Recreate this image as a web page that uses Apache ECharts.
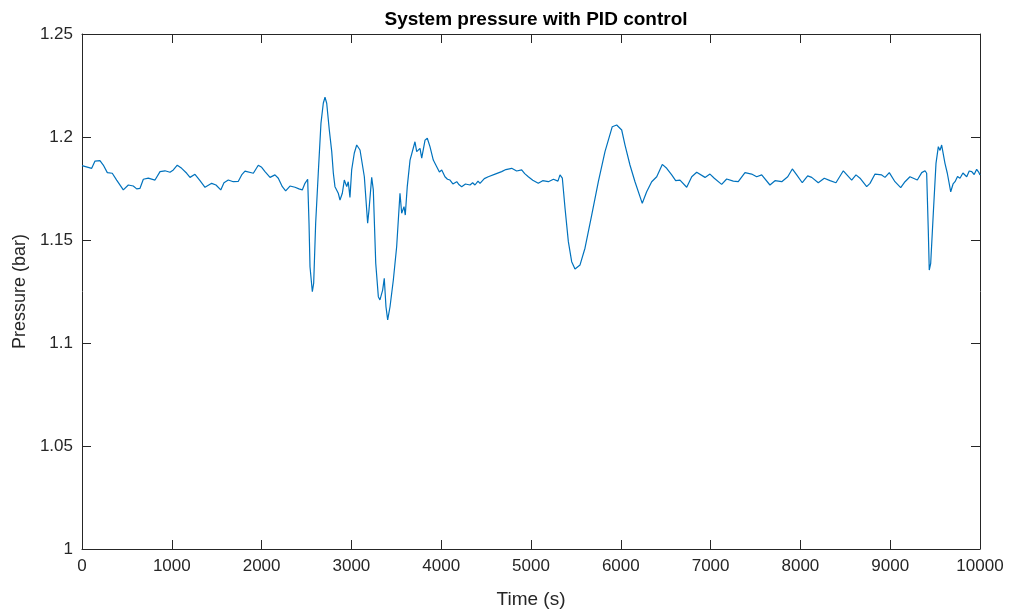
<!DOCTYPE html>
<html>
<head>
<meta charset="utf-8">
<script src="https://cdn.jsdelivr.net/npm/echarts@6/dist/echarts.min.js"></script>
<style>
html,body{margin:0;padding:0;background:#fff;}
#chart{width:1010px;height:614px;}
</style>
</head>
<body>
<div id="chart"></div>
<script>
// Time samples (s)
const timeS = [
0,108,145,200,237,282,337,386,460,516,571,609,646,683,738,813,869,924,980,1017,1061,1110,1166,1203,1258,1314,1370,1444,1492,1545,1581,1629,1685,1741,1778,1815,1908,1963,2001,2038,2094,2149,2186,2231,2268,2316,2372,2416,2453,2483,2513,
2528,2539,2565,2580,2602,2631,2661,2687,2706,2725,2754,2781,2799,2817,2854,2873,2899,2921,2948,2965,2984,3003,3032,3059,3077,3096,3110,3144,3181,3196,3226,3244,3271,3300,3318,3348,3366,3385,3404,3430,3467,3504,3541,3560,3586,3600,3622,3653,3708,3727,3764,3783,3820,3845,3875,3912,3950,
3980,4006,4042,4070,4098,4130,4173,4200,4228,4270,4321,4350,4376,4410,4432,4480,4524,4600,4673,4720,4785,4840,4896,4930,4970,5020,5081,5130,5193,5250,5300,5323,5349,
5379,5416,5453,5490,5546,5601,5676,5750,5824,5905,5954,6010,6047,6102,6158,6239,6288,6344,6400,6462,6511,6567,6611,6659,6734,6790,6845,6938,6993,7041,7123,7179,7253,7308,7383,7457,7513,7569,7661,7717,7792,7859,7910,7959,8021,8081,8126,8199,8266,8330,8396,8478,8571,8619,8664,8738,8775,8831,8905,8942,8990,9053,9117,9165,9220,9302,9351,9388,9406,
9424,9435,9451,9480,9510,9536,9555,9573,9610,9636,9674,9700,9722,9750,9777,9810,9852,9880,9908,9935,9963,9985,10000
];
// Pressure values (bar)
const pressureBar = [
1.1861,1.1848,1.1883,1.1885,1.1864,1.1827,1.1824,1.1791,1.1743,1.1767,1.1762,1.1748,1.1751,1.1795,1.1800,1.1791,1.1832,1.1836,1.1829,1.1840,1.1863,1.1848,1.1824,1.1804,1.1819,1.1788,1.1756,1.1775,1.1767,1.1743,1.1778,1.1791,1.1783,1.1785,1.1816,1.1834,1.1824,1.1863,1.1853,1.1832,1.1804,1.1816,1.1800,1.1759,1.1738,1.1762,1.1756,1.1748,1.1743,1.1775,1.1795,
1.1581,1.1370,1.1249,1.1290,1.1581,1.1824,1.2066,1.2164,1.2193,1.2164,1.2034,1.1929,1.1824,1.1759,1.1727,1.1694,1.1727,1.1791,1.1759,1.1783,1.1707,1.1840,1.1921,1.1961,1.1969,1.1937,1.1929,1.1807,1.1581,1.1646,1.1804,1.1743,1.1387,1.1225,1.1209,1.1257,1.1314,1.1176,1.1112,1.1176,1.1306,1.1467,1.1727,1.1630,1.1662,1.1621,1.1759,1.1888,1.1977,1.1929,1.1945,1.1897,1.1985,1.1994,1.1953,1.1888,1.1856,
1.1830,1.1840,1.1807,1.1795,1.1791,1.1772,1.1783,1.1768,1.1759,1.1772,1.1767,1.1778,1.1767,1.1786,1.1775,1.1798,1.1807,1.1820,1.1832,1.1842,1.1848,1.1835,1.1840,1.1822,1.1807,1.1790,1.1775,1.1788,1.1783,1.1795,1.1786,1.1816,1.1800,
1.1654,1.1492,1.1395,1.1359,1.1379,1.1460,1.1621,1.1783,1.1929,1.2050,1.2058,1.2034,1.1961,1.1864,1.1783,1.1678,1.1734,1.1783,1.1807,1.1867,1.1848,1.1816,1.1788,1.1791,1.1756,1.1807,1.1829,1.1804,1.1820,1.1800,1.1770,1.1796,1.1786,1.1783,1.1827,1.1820,1.1807,1.1816,1.1767,1.1788,1.1783,1.1807,1.1845,1.1816,1.1778,1.1811,1.1804,1.1778,1.1800,1.1788,1.1778,1.1836,1.1791,1.1816,1.1800,1.1759,1.1775,1.1820,1.1816,1.1804,1.1827,1.1783,1.1754,1.1783,1.1807,1.1791,1.1827,1.1836,1.1824,
1.1549,1.1354,1.1387,1.1630,1.1872,1.1953,1.1935,1.1961,1.1872,1.1824,1.1734,1.1772,1.1783,1.1808,1.1800,1.1825,1.1807,1.1835,1.1832,1.1818,1.1843,1.1830,1.1815
];
const xTicks = [0,1000,2000,3000,4000,5000,6000,7000,8000,9000,10000];
const yTicks = [1,1.05,1.1,1.15,1.2,1.25];

const seriesData = timeS.map((t, i) => [t, pressureBar[i]]);
const txt = '#262626';
const font = '"Liberation Sans", Arial, Helvetica, sans-serif';

const chart = echarts.init(document.getElementById('chart'), null, {renderer: 'canvas'});
const axisCommon = {
  axisLine: {show: true, onZero: false, lineStyle: {color: txt, width: 1}},
  axisTick: {show: true, inside: true, length: 9, lineStyle: {color: txt, width: 1}},
  splitLine: {show: false}
};
chart.setOption({
  animation: false,
  backgroundColor: '#fff',
  title: {
    text: 'System pressure with PID control',
    left: 531, top: 5, textAlign: 'center',
    textStyle: {fontFamily: font, fontSize: 19, fontWeight: 'bold', color: '#000'}
  },
  grid: {left: 82, right: 30, top: 34, bottom: 65, containLabel: false},
  xAxis: [
    Object.assign({
      type: 'value', min: xTicks[0], max: xTicks[xTicks.length-1], interval: 1000,
      position: 'bottom',
      name: 'Time (s)', nameLocation: 'middle', nameGap: 41,
      nameTextStyle: {fontFamily: font, fontSize: 19, color: txt},
      axisLabel: {fontFamily: font, fontSize: 17, color: txt, margin: 9,
        formatter: v => String(v)}
    }, axisCommon),
    Object.assign({
      type: 'value', min: xTicks[0], max: xTicks[xTicks.length-1], interval: 1000,
      position: 'top', axisLabel: {show: false}
    }, axisCommon)
  ],
  yAxis: [
    Object.assign({
      type: 'value', min: yTicks[0], max: yTicks[yTicks.length-1], interval: 0.05,
      position: 'left',
      name: 'Pressure (bar)', nameLocation: 'middle', nameGap: 50,
      nameTextStyle: {fontFamily: font, fontSize: 18, color: txt},
      axisLabel: {fontFamily: font, fontSize: 17, color: txt, margin: 9,
        formatter: v => String(+v.toFixed(2))}
    }, axisCommon),
    Object.assign({
      type: 'value', min: yTicks[0], max: yTicks[yTicks.length-1], interval: 0.05,
      position: 'right', axisLabel: {show: false}
    }, axisCommon)
  ],
  series: [{
    type: 'line',
    data: seriesData,
    showSymbol: false,
    smooth: false,
    lineStyle: {color: '#0072BD', width: 1.2},
    xAxisIndex: 0, yAxisIndex: 0
  }]
});
</script>
</body>
</html>
